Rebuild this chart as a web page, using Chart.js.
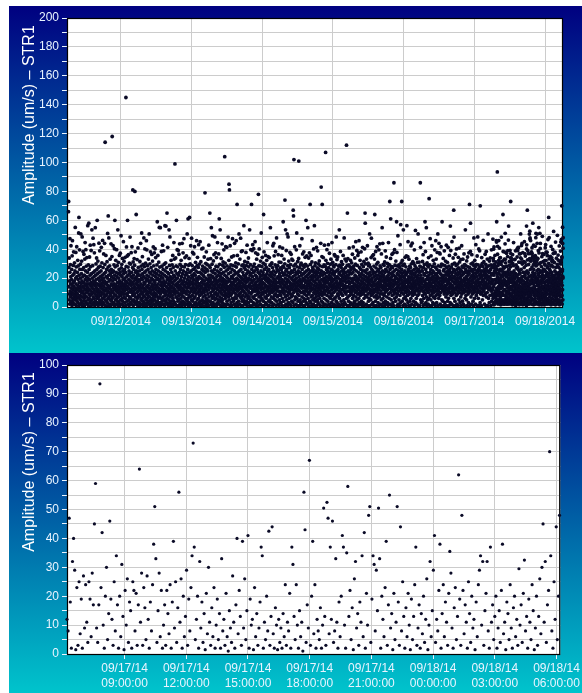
<!DOCTYPE html>
<html>
<head>
<meta charset="utf-8">
<script src="https://cdn.jsdelivr.net/npm/chart.js@4.4.0/dist/chart.umd.min.js"></script>
<style>
  html, body { margin: 0; padding: 0; background: #fff; }
  body { width: 582px; height: 693px; position: relative; overflow: hidden; }
  .panel { position: absolute; left: 9px; width: 573px; background: linear-gradient(#000080 0%, #00C4CC 100%); }
  .panel canvas { display: block; }
  #topPanel { top: 6px; height: 347px; }
  #bottomPanel { top: 353px; height: 340px; }
</style>
</head>
<body>
<div class="panel" id="topPanel"><canvas id="weekChart" width="573" height="347"></canvas></div>
<div class="panel" id="bottomPanel"><canvas id="dayChart" width="573" height="340"></canvas></div>
<script>
const AXIS_TITLE = 'Amplitude (um/s) – STR1';
const FONT = '"Liberation Sans", Arial, sans-serif';
const TICK_COLOR = '#E8F4FF';
const GRID_COLOR = '#CCCCCC';
const DOT_COLOR = '#0a0a26';

// week view: one reading every 3 min per day (hours counted from 09/11 00:00)
const weekStartHour = 6.2;
const weekStepHours = 3 / 60;

const day1Amps = [
  66,73,14,27.4,5,33.9,9,18,2,24,47.3,11,7,29.3,16,3,21,42.4,8,13,
  4,19,26,10,1,35.4,15,45.9,6,22,12,3,17,28.8,9,38.2,2,14,23,7,
  18,30.6,5,11,25,2,55.1,13,8,20,37.8,16,1,27.7,10,6,41.7,21,12,4,
  24,9,15,32.3,3,19,28.4,7,13,51.2,1,62,22,17,6,39.6,11,26,2,14,
  8,29.6,20,5,50.6,12,16,3,23,10,31.8,18,1,48.5,7,26,14,4,21,38.4,
  11,2,17,27.2,9,36.5,13,6,22,1,15,33.2,8,44.6,19,4,25,12,39.7,16,
  3,28.3,10,21,7,34.2,14,18,2,24,11,56.3,5,20,13,29.1,1,16,58,9,
  26,6,12,34.6,19,3,22,8,42.8,15,27.9,4,11,17,39.1,1,23,9,14,53.4,
  5,20,13,2,28.6,16,10,47.6,7,24,18,3,43.1,12,21,6,37.5,15,1,25,
  9,17,54.9,4,22,11,14,29.8,2,19,8,33.9,13,26,6,60,16,3,23,10,
  31.8,12,1,20,27.5,7,15,44.2,9,24,5,18,38.9,11,3,28.2,14,21,2,16,
  8,25,13,41.3,4,19,10,30.6,1,22,15,6,46.1,17,12,27.3,3,20,9,36.7,
  14,2,23,7,18,44.1,11,29.4,5,114,16,24,1,12,35.7,8,21,13,4,26,
  17,9,31.4,3,20,11,50.9,15,6,27.6,63,1,22,13,47.8,7,18,25,2,10,
  28.5,14,5,33.1,19,8,23,12,1,43.7,16,26,4,21,10,34.9,6,118,15,24,
  2,18,11,42.4,7,25,13,20,3,29.2,9,16,40.3,1,22,60,14,27.8,5,12,
  19,32.3,8,15,24,2,11,39.7,6,21,13,28.7,4,17,10,53.4,1,23,14,30.9,
  7,20,12,3,26,16,35.7,9,18,1,24,11,37.2,5,14,22,8,49.3,13,27.1,
  2,17,29.5,10,21,6,15,33.6,4,25,12,19,1,45.2,9,23,14,31.7,7,16,
  11,26,3,20,13,34.4,6,18,24,1,145,15,28.1,9,41.6,12,21,4,17,35.3,
  8,60,14,22,2,27.6,10,36.2,5,19,13,25,1,16,30.4,7,23,11,48.4,3,
  18,12,29.7,6,21,15,37.6,2,24,10,17,41.7,4,20,13,27.3,8,81,16,31.2,
  1,22,11,26,5,18,33.5,14,9,28.9,3,80,20,12,38.2,7,24,16,2,19,
  64,13,25,4,21,10,32.8,17,6,23,1,15,40.9,11,27.4,8,19,3,22,14
];
const day2Amps = [
  12,3,25,18,7,31.5,14,1,22,9,44.1,16,5,28.3,11,20,2,51.2,13,26,
  6,19,34.8,10,23,4,15,29.4,8,1,21,13,47.8,17,3,27.9,11,24,7,40.2,
  16,2,20,12,30.3,5,25,9,18,45.9,1,14,39.6,22,6,11,28.6,3,19,10,
  26,8,15,33.2,4,21,13,2,50.6,17,10,24,7,29.9,1,18,12,38.2,5,23,
  11,27.2,3,20,14,9,36.4,16,1,25,6,31.8,19,12,4,22,41.6,8,15,28.5,
  2,18,10,37.5,13,24,5,17,40.3,7,21,1,34.2,12,26,9,15,3,23,19,
  8,29.1,14,59,4,20,11,35.7,2,16,25,6,13,31.1,1,22,10,55.1,18,7,
  27.6,3,19,12,54.9,9,24,15,1,21,6,38.4,17,11,28.2,4,14,23,2,42.8,
  13,20,7,26,16,2,38.9,10,18,5,29.6,12,22,1,15,56.3,8,25,11,4,
  30.6,17,56,9,21,3,14,27.3,6,65,11,19,2,24,41.3,13,8,20,1,16,
  23,5,12,53.4,18,10,28.8,3,15,48.5,7,21,13,1,26,9,19,32.3,4,11,
  17,24,2,14,29.2,8,20,11,35.7,6,16,1,27.5,13,22,4,44.6,10,18,33.2,
  3,21,12,99,9,25,15,2,33.9,19,7,28.4,11,60,16,1,23,14,39.7,6,
  20,10,27.8,4,17,39.1,13,1,22,8,36.5,15,5,24,12,43.7,2,18,29.5,9,
  14,26,6,19,3,32.3,11,21,1,16,28.1,8,44.1,13,23,4,17,10,37.5,2,
  25,12,18,7,47.3,15,3,27.7,10,20,1,34.2,14,22,6,29.3,11,17,5,24,
  9,35.4,16,2,23,13,50.6,4,19,11,26,6,61,14,21,1,28.9,17,8,33.6,
  15,3,62,24,10,18,29.8,7,13,2,42.4,20,11,25,5,16,47.6,1,22,12,
  28.7,8,17,37.8,4,21,14,26,1,19,10,36.7,6,23,13,2,41.7,16,11,27.2,
  7,22,12,30.9,3,18,25,9,15,1,45.9,20,13,28.6,5,17,34.4,10,24,2,
  19,14,27.4,6,43.1,11,21,3,16,29.7,8,12,1,24,45.2,15,4,20,10,31.4,
  13,2,23,17,9,40.2,14,26,5,19,1,28.3,11,40.8,7,22,16,3,25,12,
  21,10,34.6,4,18,13,27.1,79,8,24,15,1,30.2,12,20,6,38.2,16,3,26,
  11,29.4,5,19,14,2,25,9,33.1,17,1,22,12,42.8,7,28.5,15,4,20,18
];
const day3Amps = [
  65,14,27.3,4,19,33.5,10,22,2,16,54.9,8,25,13,1,29.6,17,6,49.3,21,
  11,3,24,15,31.9,7,20,12,36.2,1,18,26,9,14,48.5,5,23,16,2,37.5,
  10,19,28.2,6,13,34.2,1,21,17,8,25,12,44.6,3,27.8,15,9,22,18,5,
  36.7,14,2,24,61,11,19,29.5,7,16,53.4,4,21,13,1,26,10,33.6,18,6,
  23,9,15,43.7,3,20,12,28.9,5,17,31.2,1,24,14,8,39.6,19,11,27.5,2,
  16,104,22,10,30.4,6,18,13,41.7,1,25,15,8,21,12,41.3,4,28.4,17,9,
  20,2,26,14,48.4,11,7,23,18,32.3,85,13,5,81,27.2,10,1,19,42.4,15,
  8,24,12,29.1,3,17,21,9,34.6,14,1,26,16,6,47.3,20,11,28.7,4,13,
  22,17,35.4,5,19,10,25,2,44.1,15,12,28.3,7,23,1,18,30.6,9,14,45.9,
  6,27.6,13,20,3,71,16,35.7,11,24,1,19,8,29.8,14,4,22,12,50.6,17,
  25,9,18,2,33.2,15,21,7,13,47.6,10,26,1,17,38.4,6,20,14,28.8,4,
  12,38.9,19,8,24,1,16,29.2,11,22,5,56.3,14,27.4,3,18,10,31.5,20,7,
  15,26,2,21,13,37.8,9,17,28.6,4,23,12,1,42.8,19,8,30.9,14,25,6,
  18,11,33.9,3,20,27.7,15,7,24,10,53.4,1,16,22,13,29.3,5,19,39.7,9,
  23,14,4,71,17,26,10,39.1,1,21,12,43.1,7,18,28.1,3,24,15,40.3,11,
  6,19,29.7,13,2,25,16,45.2,8,22,11,37.5,1,17,27.2,14,5,21,33.1,12,
  20,3,26,15,9,36.5,18,11,24,1,78,13,28.5,7,19,40.2,10,23,4,16,
  28.4,14,21,2,31.8,17,8,25,12,51.2,6,19,15,1,27.9,10,34.4,22,13,5,
  17,24,9,30.3,4,64,20,13,38.2,1,16,26,11,22,7,29.4,14,3,19,35.7,
  10,21,15,27.5,6,18,32.3,2,23,12,44.6,8,25,14,1,20,34.9,11,17,4,
  26,13,19,1,34.2,9,22,16,28.9,5,14,54.9,11,24,3,18,29.6,7,21,12,
  3,30.6,15,23,10,27.3,1,17,42.4,13,20,6,25,11,44.1,2,19,35.4,14,8,
  22,16,5,29.2,12,18,38.4,9,24,1,15,27.6,13,47.8,4,20,11,26,7,17,
  13,28.7,2,21,36.2,14,8,25,17,1,31.1,11,19,5,23,41.6,10,16,27.1,3
];
const day4Amps = [
  21,8,30.9,14,3,26,17,11,35.7,1,19,24,6,13,40.8,10,28.2,16,59,22,
  12,4,27.5,18,33.2,9,15,23,1,29.9,74,14,20,7,53.4,11,25,2,17,39.1,
  16,26,5,22,13,50.6,8,19,1,28.6,14,48.5,10,24,3,18,31.8,12,21,6,
  27.2,11,17,2,37.8,15,23,9,29.3,13,1,20,36.5,7,25,16,4,33.2,12,19,
  8,24,14,32.3,3,21,67,18,63,10,28.4,102,1,16,26,12,41.7,5,22,15,
  19,7,29.7,13,24,2,17,39.6,11,20,51.2,6,27.8,14,1,23,9,31.5,16,4,
  25,12,18,33.6,101,8,21,15,1,27.3,11,42.4,19,5,24,14,29.1,3,17,10,
  30.4,16,2,22,13,47.3,7,26,18,10,36.7,1,20,14,28.8,4,23,11,38.2,6,
  15,27.6,9,19,1,24,13,34.4,5,29.5,17,21,11,60,3,25,14,8,35.4,18,
  12,22,2,28.3,16,54.9,6,20,10,26,1,33.9,15,23,9,18,37.5,4,13,24,
  17,71,11,29.4,3,21,14,35.7,7,19,25,1,16,31.2,12,45.9,8,22,27.4,5,
  20,13,26,2,18,40.2,10,24,15,6,56.3,1,21,12,28.7,17,4,30.6,9,23,
  14,25,7,19,41.3,11,1,22,16,27.1,5,13,38.9,20,3,24,10,29.8,15,8,
  26,18,2,31.9,12,21,6,17,28.5,14,1,23,9,44.1,16,11,83,25,4,19,
  13,34.9,8,71,22,15,27.9,3,18,10,34.2,1,24,14,20,6,29.2,12,42.8,17,
  9,23,16,2,28.1,19,107,11,32.3,5,21,14,26,1,17,39.7,8,24,12,30.2,
  18,4,25,13,20,43.1,10,27.2,2,16,22,7,37.2,15,1,24,11,19,29.6,6,
  21,14,33.1,9,17,26,3,20,12,44.6,8,23,15,1,30.9,18,5,25,13,28.6,
  10,19,2,27.7,16,22,36.2,6,14,24,11,35.3,1,20,13,29.3,7,17,48.5,4,
  25,12,18,32.8,3,21,15,9,34.6,1,26,14,20,8,28.3,16,2,23,11,53.4,
  6,24,13,28.9,17,1,19,38.4,10,22,15,27.5,4,18,31.4,9,25,12,2,21,
  16,29.5,8,20,12,35.7,1,23,14,26,5,18,47.8,11,24,3,21,15,33.2,10,
  19,2,27.3,13,24,9,31.8,17,112,6,22,14,28.8,1,65,20,11,33.5,7,25,
  14,22,4,18,29.1,11,40.9,1,24,16,8,27.8,13,20,3,32.3,17,10,26,12
];
const day5Amps = [
  9,23,14,30.6,2,19,27.4,11,36.5,6,17,24,1,13,41.6,20,8,28.2,15,3,
  26,12,19,4,33.9,16,22,10,1,29.6,14,45.2,7,21,25,11,18,2,39.1,15,
  5,20,28.7,13,9,35.7,17,1,24,12,37.5,6,19,45.9,14,3,22,27.2,10,16,
  32.3,8,21,15,2,26,11,38.2,18,4,23,13,29.4,1,16,20,9,41.3,25,12,
  17,3,27.9,10,22,14,31.5,6,19,1,25,40.3,12,16,65,58,8,29.8,21,13,
  24,11,2,18,33.2,15,7,26,20,12,42.4,1,23,14,9,30.4,17,4,28.6,19,
  13,21,6,29.2,16,50.6,10,24,1,18,27.6,12,22,5,15,34.2,8,47.6,19,11,
  26,2,20,14,35.4,9,17,25,3,23,12,36.2,16,1,28.3,10,21,7,33.2,15,
  64,18,11,24,4,19,38.4,13,27.1,1,22,8,16,29.7,12,41.7,6,20,14,25,
  10,30.9,3,17,22,15,26,1,39.6,12,19,7,24,14,43.7,9,28.5,18,2,21,
  16,27.3,11,20,5,36.7,14,23,1,18,54.9,9,25,13,44.1,6,21,15,29.5,3,
  22,12,19,28.8,8,17,1,31.2,14,24,10,38.9,4,20,26,13,16,2,34.6,18,
  11,25,7,21,15,30.2,3,19,12,27.7,1,22,16,44.6,9,24,18,6,29.3,14,
  20,13,73,2,26,17,10,33.6,61,15,23,5,19,28.1,12,1,21,36.5,8,16,
  27.2,14,24,3,18,11,37.5,1,22,15,86,9,25,12,39.7,6,19,28.9,17,10,
  4,21,16,31.8,13,26,7,20,59,12,37.8,1,23,17,9,28.4,14,49.3,2,19,
  15,25,11,22,5,29.1,18,1,27.5,13,20,8,43.1,16,24,3,57,21,12,30.6,
  19,10,26,73,14,23,4,32.3,17,12,28.7,1,21,15,53.4,9,24,6,18,13,
  29.6,16,2,20,25,11,34.4,7,22,14,1,27.8,18,10,35.3,5,23,13,56.3,17,
  12,24,8,19,34.9,3,45.2,15,26,11,21,1,33.1,17,9,25,14,28.2,4,20,
  18,1,27.4,13,23,6,42.4,16,10,29.9,21,14,2,25,44.2,12,19,8,31.4,15,
  23,10,17,30.3,4,20,13,26,1,39.6,15,22,9,28.6,11,18,53,3,24,16,
  14,27.1,6,21,33.5,12,19,2,25,16,30.9,8,22,11,50.6,1,17,26,13,20,
  9,31.1,15,24,1,18,28.3,11,20,86,14,41.3,5,22,17,27.6,3,19,12,25
];
const day6Amps = [
  16,4,25,13,31.5,8,20,11,36.2,1,18,27.3,14,6,23,44.6,10,29.4,15,2,
  22,59,17,9,38.4,12,26,3,19,14,54.9,7,24,1,16,30.6,11,21,5,28.8,
  13,19,2,27.7,10,34.2,15,22,6,75,17,12,29.2,1,24,18,47.3,8,20,14,
  26,5,35.4,16,11,23,1,19,42.4,9,14,28.1,12,21,3,25,17,32.3,7,18,
  10,24,14,2,29.8,20,13,39.6,6,22,16,1,27.5,11,45.9,18,8,33.2,15,23,
  3,19,26,12,37.8,9,21,14,50.6,17,1,28.4,11,24,6,20,44.1,13,16,37.5,
  25,8,18,36.7,2,23,15,10,27.9,13,41.7,1,20,16,29.6,5,22,59,12,18,
  14,29.1,4,21,17,33.6,11,25,1,19,26,9,38.9,13,22,15,3,28.6,18,10,
  31.8,12,20,7,24,15,42.8,1,18,27.2,13,22,9,30.9,16,4,25,11,41.3,19,
  6,23,17,28.3,12,1,21,35.7,14,26,10,19,3,56,24,16,39.1,8,20,13,
  27.6,15,2,22,45.2,11,18,29.5,9,24,14,1,33.9,20,12,26,67,6,48.4,17,
  21,10,30.4,16,4,25,13,36.5,1,19,23,12,28.7,8,17,40.2,14,2,26,20,
  9,22,15,29.7,11,18,1,34.4,24,13,27.1,5,20,40.8,16,10,31.2,14,23,3,
  17,26,12,21,7,32.8,19,1,25,14,42.4,9,22,16,28.2,4,18,11,33.1,24,
  13,2,27.4,18,23,10,36.7,15,1,20,29.3,12,24,6,17,53.4,11,26,19,8,
  28.5,14,21,5,31.9,16,24,11,1,19,34.6,13,22,9,27.8,17,3,25,15,37.5,
  10,23,18,71,12,27.2,1,20,14,38.4,58,16,25,7,29.9,11,21,2,18,36.2,
  15,26,9,22,13,30.6,19,4,24,17,1,28.9,12,47.8,21,10,26,14,6,32.3,
  20,11,27.7,16,2,23,43.1,13,18,29.4,8,21,14,25,1,35.3,17,10,24,48.5,
  12,29.1,19,6,26,15,40.2,1,22,17,27.3,11,38.9,14,20,3,70,25,16,9,
  23,13,28.6,17,1,21,34.2,10,25,18,30.2,5,19,12,27.9,15,46.1,8,22,14,
  18,31.4,11,24,16,2,26,13,20,36.5,9,23,17,29.5,1,21,14,38.4,7,25,
  27.5,15,22,10,33.2,19,1,25,13,50.6,16,21,6,28.4,12,24,18,3,31.8,17,
  14,24,8,20,33.9,12,26,17,1,29.2,22,11,39.6,16,4,27.6,19,13,23,9
];
// extra week-view readings for 09/17 06:12 - 09/18 06:12, every 4.8 min
const day7WeekAmps = [
  18,27.4,6,33.6,14,22,41.6,9,29.3,16,35.7,11,24,3,31.2,19,45.9,13,26,8,
  21,36.5,12,28.7,4,17,32.3,23,10,40.8,15,26,7,34.2,20,13,29.6,48.4,17,5,
  25,14,31.8,9,22,38.4,16,27.2,2,19,33.1,12,24,43.7,8,30.6,17,21,11,37.2,
  15,28.2,6,23,34.9,13,20,46.3,10,26,18,31.5,4,22,39.1,14,27.8,9,17,33.9,
  24,12,30.4,19,7,36.2,21,15,28.6,44.6,11,25,17,3,32.8,20,13,38.9,23,9,
  29.1,16,22,5,34.6,18,27.5,12,41.3,20,8,31.1,15,25,36.7,10,23,17,30.9,50.6,
  13,26,19,33.2,7,21,29.7,14,37.6,24,2,18,31.4,11,27.3,45.2,16,22,9,35.3,
  20,12,28.9,17,40.2,6,25,19,32.6,14,23,10,36.9,29.4,15,21,4,33.5,18,47.8,
  26,9,31.7,16,22,38.1,13,27.6,19,5,34.4,24,11,29.2,42.8,17,21,8,30.3,14,
  23,35.6,12,20,28.4,3,17,31.9,25,44.1,10,19,33.7,15,26,7,22,37.4,13,29.8,
  16,24,40.5,11,30.7,21,6,27.9,18,34.8,14,48.9,22,9,31.3,19,26,12,36.4,20,
  8,29.5,17,25,13,43.2,21,32.1,10,24,18,37.9,5,27.1,15,46.7,23,12,30.1,19,
  33.3,14,26,20,9,35.1,17,28.3,41.9,11,24,16,31.6,6,22,39.8,13,27.7,19,52.3,
  21,10,30.8,15,25,37.3,12,44.9,19,27.4,8,33.8,17,23,14,49.6,28.1,11,35.9,20,
  13,27.5,22,42.3,16,31.6,9,24,38.7,18,29.9,12,46.8,20,34.7,15,26,55.2,21,40.7
];
const day7WeekStepHours = 4.8 / 60;

// last 24 h, one reading every 3.2 min (hours counted from 09/17 00:00)
const lastDayStartHour = 6.2;
const lastDayStepHours = 3.2 / 60;
const lastDayAmps = [
  12,8,47,18,2,32,40,29,1.5,23,3,25,7,19,2,27,9,24,11,4,25,19,6,28,17,45,59,9,4,17,
  93.5,23,42,10,2,20,30,5,14,46,19,12,3,25,8,34,17,2,20,6,31,13,1.5,22,10,26,4,18,15,2,
  25,22,8,21,3,17,64,11,28,3,23,16,5,27,12,2,18,8,24,38,51,33,4,15,28,6,22,2,10,17,
  3,22,14,7,24,2,18,39,9,25,4,16,56,11,26,2,20,6,13,29,3,19,8,23,34,73,37,5,12,20,
  2,32,9,18,4,14,1.5,21,7,30,11,3,16,6,23,2,10,19,5,14,2,33,8,12,3,21,6,1,15,9,
  4,27,11,2,17,40,7,22,13,3,39,9,26,5,15,41,2,19,10,12,1.5,23,6,14,3,9,18,37,34,2,
  11,5,20,8,42.5,3,13,44,7,2,16,10,1.5,12,4,9,2,14,6,24,3,11,8,21,2,37,31,13,5,24,
  10,2,15,6,11,1,56,43,4,17,9,67,3,20,39,7,24,2,12,8,5,16,2,10,50.5,13,3,52.5,47,7,
  37,12,46,4,8,33,11,2,18,6,20,41,37,10,2,35,58,13,22,5,16,1.5,26,32,9,14,3,18,11,34,
  6,42,2,21,10,48,51,4,19,34,31,8,29,15,50.5,33,2,20,12,6,23,39,3,17,55,9,14,1.5,21,5,
  11,51,18,3,44,8,25,13,2,16,6,21,10,1.5,19,5,13,24,37,3,9,17,2,14,7,20,4,12,26,1.5,
  10,32,6,15,29,41,4,12,8,22,38,2,14,24,6,18,11,3,21,35.5,28,9,2,16,23,5,13,62,19,3,
  48,22,7,17,11,2,25,14,4,20,9,12,1.5,18,6,24,29,34,10,32,3,15,21,32,8,2,37,11,17,5,
  13,20,2,9,15,4,22,38,7,11,1.5,18,14,5,24,9,2,16,20,6,12,3,29.5,10,17,4,21,32.5,8,13,
  2,19,11,5,24,15,1.5,9,20,3,13,26,7,30,45,11,32,4,17,22,70,34,8,2,25,12,44,5,20,48
];

const weekTickHours = [24, 48, 72, 96, 120, 144, 168];
const weekTickLabels = ['09/12/2014', '09/13/2014', '09/14/2014', '09/15/2014', '09/16/2014', '09/17/2014', '09/18/2014'];
const dayTickHours = [9, 12, 15, 18, 21, 24, 27, 30];
const dayTickDates = ['09/17/14', '09/17/14', '09/17/14', '09/17/14', '09/17/14', '09/18/14', '09/18/14', '09/18/14'];
const dayTickTimes = ['09:00:00', '12:00:00', '15:00:00', '18:00:00', '21:00:00', '00:00:00', '03:00:00', '06:00:00'];

function toPoints(values, startHour, stepHours) {
  return values.map((v, i) => ({ x: startHour + i * stepHours, y: v }));
}

// white plot area, black frame and rotated y title
const plotFrame = {
  id: 'plotFrame',
  beforeDraw(chart) {
    const { ctx, chartArea: a } = chart;
    ctx.save();
    ctx.fillStyle = '#fff';
    ctx.fillRect(a.left, a.top, a.right - a.left, a.bottom - a.top);
    ctx.restore();
  },
  beforeDatasetsDraw(chart) {
    const { ctx, chartArea: a } = chart;
    ctx.save();
    ctx.strokeStyle = '#000';
    ctx.lineWidth = 1.2;
    ctx.strokeRect(a.left + 0.5, a.top + 0.5, a.right - a.left - 1, a.bottom - a.top);
    ctx.restore();
  },
  afterDraw(chart) {
    const ctx = chart.ctx;
    ctx.save();
    ctx.translate(25, 109);
    ctx.rotate(-Math.PI / 2);
    ctx.fillStyle = '#fff';
    ctx.font = '16px ' + FONT;
    ctx.textAlign = 'center';
    ctx.textBaseline = 'alphabetic';
    ctx.fillText(AXIS_TITLE, 0, 0);
    ctx.restore();
  }
};

function renderChart(canvasId, points, dotSize, x, y) {
  return new Chart(document.getElementById(canvasId), {
    type: 'scatter',
    data: {
      datasets: [{
        data: points,
        backgroundColor: DOT_COLOR,
        borderWidth: 0,
        pointRadius: dotSize,
        clip: false
      }]
    },
    options: {
      responsive: false,
      animation: false,
      events: [],
      layout: { padding: { top: 12, right: 19, left: 0, bottom: 0 } },
      plugins: { legend: { display: false }, tooltip: { enabled: false } },
      scales: {
        x: {
          type: 'linear',
          min: x.min,
          max: x.max,
          afterFit: s => { s.height = x.height; },
          afterBuildTicks: s => { s.ticks = x.ticks.map(v => ({ value: v })); },
          ticks: {
            autoSkip: false,
            maxRotation: 0,
            padding: 2,
            color: TICK_COLOR,
            font: { family: FONT, size: 12, lineHeight: 1.25 },
            callback: (v, i) => x.labels[i]
          },
          grid: { color: GRID_COLOR, tickColor: TICK_COLOR, tickLength: 5 },
          border: { display: false }
        },
        y: {
          min: 0,
          max: y.max,
          afterFit: s => { s.width = 58; },
          ticks: {
            stepSize: y.step,
            autoSkip: false,
            padding: 3,
            color: TICK_COLOR,
            font: { family: FONT, size: 12 },
            callback: v => (v % y.labelEvery === 0 ? v : '')
          },
          grid: { color: GRID_COLOR, tickColor: TICK_COLOR, tickLength: 5 },
          border: { display: false }
        }
      }
    },
    plugins: [plotFrame]
  });
}

const weekDays = [day1Amps, day2Amps, day3Amps, day4Amps, day5Amps, day6Amps];
let weekPoints = [];
weekDays.forEach((amps, d) => {
  weekPoints = weekPoints.concat(toPoints(amps, weekStartHour + d * 24, weekStepHours));
});
weekPoints = weekPoints.concat(toPoints(day7WeekAmps, 144 + lastDayStartHour, day7WeekStepHours));
weekPoints = weekPoints.concat(toPoints(lastDayAmps, 144 + lastDayStartHour, lastDayStepHours));

renderChart('weekChart', weekPoints, 1.9,
  { min: 5.7, max: 174.1, height: 46, ticks: weekTickHours, labels: weekTickLabels },
  { max: 200, step: 10, labelEvery: 20 });

renderChart('dayChart', toPoints(lastDayAmps, lastDayStartHour, lastDayStepHours), 1.6,
  { min: 6.2, max: 30.18, height: 39, ticks: dayTickHours, labels: dayTickHours.map((h, i) => [dayTickDates[i], dayTickTimes[i]]) },
  { max: 100, step: 5, labelEvery: 10 });
</script>
</body>
</html>
